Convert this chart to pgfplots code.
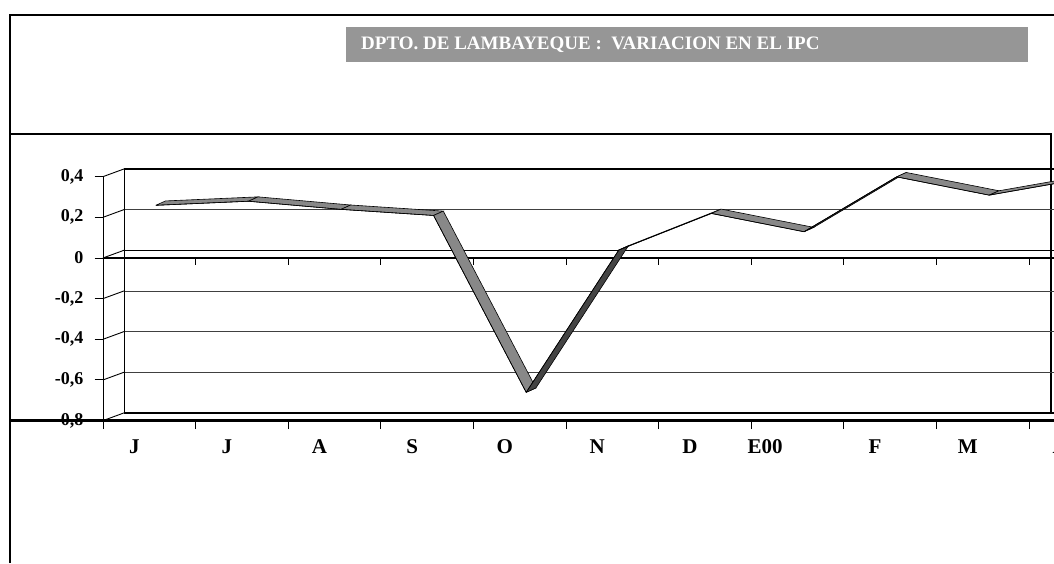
\documentclass[border=0pt]{standalone}
\usepackage{pgfplots}
\pgfplotsset{compat=1.18}
\usepackage{pgfplotstable}
\usepackage{fontspec}
\setmainfont{Liberation Serif}
\definecolor{ribtop}{RGB}{136,136,136}
\definecolor{ribbot}{RGB}{68,68,68}
\definecolor{titlegray}{RGB}{150,150,150}

% IPC monthly variation (front edge of the ribbon)
\pgfplotstableread{
x y
0 0.25
1 0.27
2 0.23
3 0.20
4 -0.67
5 0.03
6 0.21
7 0.12
8 0.39
9 0.30
10 0.38
}\ipc

% one ribbon face between two consecutive months: d=0 front edge, d=1 back edge
\newcommand\seg[5]{\addplot[fill=#5, draw=black, line width=0.6pt]
  table[x expr=\thisrow{x}+0.0700+0.1050*\thisrow{d},
        y expr=\thisrow{y}+0.0090+0.0215*\thisrow{d}, row sep=\\]
  {x y d\\ #1 #2 0\\ #3 #4 0\\ #3 #4 1\\ #1 #2 1\\ #1 #2 0\\};}

\begin{document}
\begin{tikzpicture}
\useasboundingbox (0,0) rectangle (1054pt,563pt);
\clip (0,0) rectangle (1054pt,563pt);
% outer frame
\draw[line width=1.6pt] (10pt,0pt) -- (10pt,548pt) -- (1060pt,548pt);
\draw[line width=1.4pt] (10pt,429pt) -- (1051pt,429pt) -- (1051pt,151pt);
% title
\fill[titlegray] (346pt,501pt) rectangle (1028pt,536pt);
\node[anchor=base west, inner sep=0pt, text=white, font=\fontsize{19}{22}\selectfont\bfseries]
  at (361pt,513pt) {DPTO. DE LAMBAYEQUE :\ \ VARIACION EN EL IPC};

\begin{axis}[
  at={(103pt,142.4pt)}, anchor=south west,
  scale only axis, width=1018.6pt, height=243.96pt,
  xmin=-0.5, xmax=10.5, ymin=-0.8, ymax=0.4,
  clip=false,
  axis x line*=bottom, axis y line*=left,
  x axis line style={draw=none},
  y axis line style={line width=1pt, -},
  tick align=outside, major tick length=8.5pt,
  tick style={black, line width=0.9pt},
  xtick={-0.5,0.5,1.5,2.5,3.5,4.5,5.5,6.5,7.5,8.5,9.5,10.5},
  xticklabels={,,,,,,,,,,,},
  extra x ticks={0,1,2,3,4,5,6,7,8,9,10},
  extra x tick labels={J,J,A,S,O,N,D,{\kern-17.5pt E00\kern17.5pt},F,M,A},
  extra x tick style={major tick length=0pt,
    xticklabel style={anchor=base, yshift=-32.4pt, xshift=-15pt,
      font=\fontsize{21}{24}\selectfont\bfseries}},
  ytick={-0.8,-0.6,-0.4,-0.2,0,0.2,0.4},
  yticklabels={{-0,8},{-0,6},{-0,4},{-0,2},0,{0,2},{0,4}},
  yticklabel style={font=\fontsize{18}{20}\selectfont\bfseries, xshift=-7.5pt},
]
% back wall: gridlines, left edge, connecting diagonals
\pgfplotsinvokeforeach{-0.6,-0.4,-0.2,0.2}{
  \draw[black!75, line width=0.8pt] ([shift={(21pt,7.7pt)}]axis cs:-0.5,#1) -- ([shift={(21pt,7.7pt)}]axis cs:12,#1);
}
\pgfplotsinvokeforeach{-0.8,-0.6,-0.4,-0.2,0,0.2,0.4}{
  \draw[black, line width=0.9pt] (axis cs:-0.5,#1) -- ++(21pt,7.7pt);
}
\draw[black, line width=1.2pt] ([shift={(21pt,7.7pt)}]axis cs:-0.5,0.4) -- ([shift={(21pt,7.7pt)}]axis cs:12,0.4);
\draw[black, line width=1.4pt] ([shift={(21pt,7.7pt)}]axis cs:-0.5,0) -- ([shift={(21pt,7.7pt)}]axis cs:12,0);
\draw[black, line width=1.8pt] ([shift={(21pt,7.7pt)}]axis cs:-0.5,-0.8) -- ([shift={(21pt,7.7pt)}]axis cs:12,-0.8);
\draw[black, line width=0.9pt] ([shift={(21pt,7.7pt)}]axis cs:-0.5,-0.8) -- ([shift={(21pt,7.7pt)}]axis cs:-0.5,0.4);
% front category axis at 0 with its ticks
\draw[black, line width=1.4pt] (axis cs:-0.5,0) -- (axis cs:12,0);
\pgfplotsinvokeforeach{-0.5,0.5,1.5,2.5,3.5,4.5,5.5,6.5,7.5,8.5,9.5,10.5}{
  \draw[black, line width=0.9pt] (axis cs:#1,0) -- ++(0pt,-7pt);
}
% ribbon
\seg{0}{0.25}{1}{0.27}{ribtop}
\seg{1}{0.27}{2}{0.23}{ribtop}
\seg{2}{0.23}{3}{0.20}{ribtop}
\seg{3}{0.20}{4}{-0.67}{ribtop}
\seg{4}{-0.67}{5}{0.03}{ribbot}
\seg{5}{0.03}{6}{0.21}{ribtop}
\seg{6}{0.21}{7}{0.12}{ribtop}
\seg{7}{0.12}{8}{0.39}{ribbot}
\seg{8}{0.39}{9}{0.30}{ribtop}
\seg{9}{0.30}{10}{0.38}{ribtop}
\addplot[black, line width=0.6pt] table[x expr=\thisrow{x}+0.0700, y expr=\thisrow{y}+0.0090] {\ipc};
\end{axis}
% front floor edge (value -0.8), thick
\draw[line width=2.6pt] (10pt,142.4pt) -- (1060pt,142.4pt);
\end{tikzpicture}
\end{document}
